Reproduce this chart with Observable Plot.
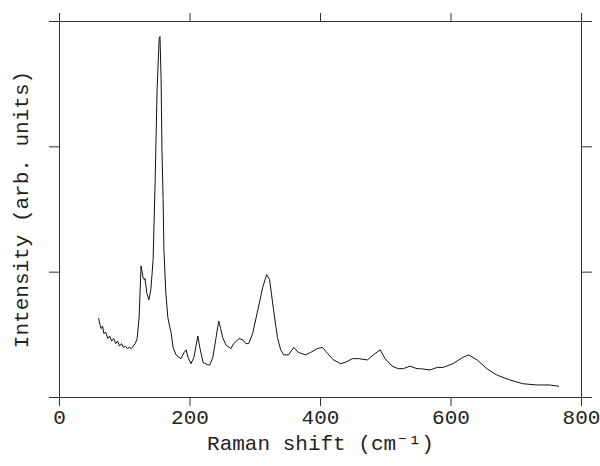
<!DOCTYPE html>
<html>
<head>
<meta charset="utf-8">
<script src="https://cdn.jsdelivr.net/npm/d3@7"></script>
<script src="https://cdn.jsdelivr.net/npm/@observablehq/plot@0.6"></script>
<style>
  html, body { margin: 0; padding: 0; background: #fff; }
  #chart svg { display: block; }
</style>
</head>
<body>
<div id="chart"></div>
<script>
// Raman spectrum (x in cm^-1, intensity in arbitrary units)
const ramanShift = [
  60, 62, 64, 66, 68, 71, 74, 77, 80, 83,
  86, 89, 92, 95, 98, 101, 104, 107, 110, 113,
  116, 119, 122, 125, 128, 130, 131, 134, 137, 140,
  143.5, 146.6, 149.6, 152.7, 154, 155.7, 157, 158.8, 160, 163,
  166, 169, 171, 174, 178.6, 183, 186, 191, 194, 197,
  201.5, 206, 212, 215, 220, 227.5, 230.5, 235, 240, 244,
  247, 250, 255, 262.6, 267, 275, 281, 285.5, 290, 296,
  304, 311.5, 317.5, 322, 328, 334, 339, 343.5, 351, 359,
  366, 377, 385, 395, 403, 411, 420, 430.5, 438, 449,
  458, 472, 481, 491.6, 499, 510, 519, 527, 537, 548,
  553, 568, 579, 588, 603, 618, 627, 640, 655, 670,
  690, 710, 731, 751, 765
];
const intensity = [
  0.63, 0.58, 0.55, 0.57, 0.51, 0.52, 0.47, 0.49, 0.45, 0.47,
  0.43, 0.45, 0.41, 0.43, 0.40, 0.41, 0.39, 0.40, 0.39, 0.41,
  0.43, 0.47, 0.64, 1.05, 0.96, 0.94, 0.95, 0.83, 0.78, 0.86,
  1.10, 1.74, 2.46, 2.86, 2.88, 2.54, 1.98, 1.58, 1.18, 0.83,
  0.64, 0.56, 0.52, 0.40, 0.34, 0.32, 0.31, 0.36, 0.38, 0.32,
  0.27, 0.32, 0.49, 0.40, 0.28, 0.26, 0.26, 0.32, 0.48, 0.61,
  0.55, 0.48, 0.42, 0.39, 0.43, 0.47, 0.46, 0.43, 0.43, 0.51,
  0.70, 0.88, 0.98, 0.94, 0.70, 0.48, 0.38, 0.34, 0.34, 0.40,
  0.36, 0.34, 0.36, 0.39, 0.40, 0.35, 0.30, 0.27, 0.28, 0.31,
  0.31, 0.30, 0.34, 0.38, 0.31, 0.25, 0.23, 0.23, 0.25, 0.23,
  0.23, 0.22, 0.24, 0.24, 0.27, 0.32, 0.34, 0.30, 0.23, 0.18,
  0.14, 0.11, 0.10, 0.10, 0.09
];
const xTicks = [0, 200, 400, 600, 800];
const yTicks = [0, 1, 2, 3];
const xLabel = "Raman shift (cm⁻¹)";
const yLabel = "Intensity (arb. units)";

const spectrum = ramanShift.map((x, i) => ({x, y: intensity[i]}));
const blank = () => "";

const plot = Plot.plot({
  width: 600,
  height: 466,
  marginTop: 21,
  marginBottom: 69,
  marginLeft: 59,
  marginRight: 19,
  style: {fontFamily: "'Liberation Mono', monospace", fontSize: "21px", color: "#222", background: "#fff"},
  x: {domain: [0, 800], axis: null},
  y: {domain: [0, 3], axis: null},
  marks: [
    Plot.frame({stroke: "#333", strokeWidth: 1}),
    Plot.axisX({anchor: "bottom", ticks: xTicks, tickSize: 9, tickPadding: 3, label: xLabel,
                labelAnchor: "center", labelOffset: 52, labelArrow: false, stroke: "#333"}),
    Plot.axisX({anchor: "top", ticks: xTicks, tickSize: 9, tickFormat: blank, label: null, stroke: "#333"}),
    Plot.axisY({anchor: "left", ticks: yTicks, tickSize: 10, tickFormat: blank, label: yLabel,
                labelAnchor: "center", labelOffset: 46, labelArrow: false, stroke: "#333"}),
    Plot.axisY({anchor: "right", ticks: yTicks, tickSize: 10, tickFormat: blank, label: null, stroke: "#333"}),
    Plot.line(spectrum, {x: "x", y: "y", stroke: "#111", strokeWidth: 1})
  ]
});
document.getElementById("chart").appendChild(plot);
</script>
</body>
</html>
